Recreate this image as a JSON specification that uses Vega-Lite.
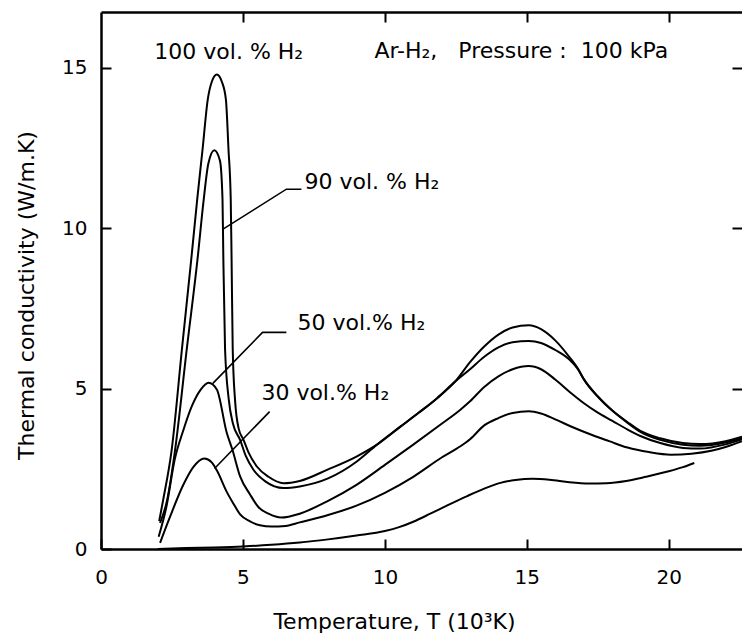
{
  "$schema": "https://vega.github.io/schema/vega-lite/v6.json",
  "width": 641,
  "height": 537,
  "autosize": {"type": "none"},
  "padding": {"left": 101, "top": 12, "right": 0, "bottom": 86},
  "background": "white",
  "config": {"view": {"stroke": null}, "font": "DejaVu Sans"},
  "datasets": {
    "curves": [
      {"s": "100", "T": 2.05, "K": 0.87}, {"s": "100", "T": 2.19, "K": 1.53}, {"s": "100", "T": 2.49, "K": 3.09}, {"s": "100", "T": 2.85, "K": 6.22},
      {"s": "100", "T": 3.18, "K": 9.03}, {"s": "100", "T": 3.39, "K": 10.9}, {"s": "100", "T": 3.58, "K": 12.47}, {"s": "100", "T": 3.76, "K": 14.0},
      {"s": "100", "T": 3.9, "K": 14.55}, {"s": "100", "T": 4.08, "K": 14.78}, {"s": "100", "T": 4.26, "K": 14.55}, {"s": "100", "T": 4.4, "K": 14.0},
      {"s": "100", "T": 4.49, "K": 12.47}, {"s": "100", "T": 4.57, "K": 10.9}, {"s": "100", "T": 4.6, "K": 9.03}, {"s": "100", "T": 4.64, "K": 6.22},
      {"s": "100", "T": 4.72, "K": 4.66}, {"s": "100", "T": 4.85, "K": 3.75}, {"s": "100", "T": 5.02, "K": 3.4}, {"s": "100", "T": 5.2, "K": 3.0},
      {"s": "100", "T": 5.49, "K": 2.57}, {"s": "100", "T": 5.9, "K": 2.25}, {"s": "100", "T": 6.43, "K": 2.05}, {"s": "100", "T": 7.0, "K": 2.12},
      {"s": "100", "T": 8.0, "K": 2.48}, {"s": "100", "T": 9.0, "K": 2.88}, {"s": "100", "T": 9.72, "K": 3.25}, {"s": "100", "T": 10.5, "K": 3.78},
      {"s": "100", "T": 11.2, "K": 4.25}, {"s": "100", "T": 11.84, "K": 4.7}, {"s": "100", "T": 12.49, "K": 5.23}, {"s": "100", "T": 13.0, "K": 5.82},
      {"s": "100", "T": 13.49, "K": 6.3}, {"s": "100", "T": 14.0, "K": 6.68}, {"s": "100", "T": 14.5, "K": 6.9}, {"s": "100", "T": 15.07, "K": 6.97},
      {"s": "100", "T": 15.5, "K": 6.85}, {"s": "100", "T": 16.0, "K": 6.5}, {"s": "100", "T": 16.5, "K": 5.98}, {"s": "100", "T": 16.8, "K": 5.62},
      {"s": "100", "T": 17.0, "K": 5.3}, {"s": "100", "T": 17.5, "K": 4.75}, {"s": "100", "T": 18.0, "K": 4.32}, {"s": "100", "T": 18.55, "K": 3.95},
      {"s": "100", "T": 19.0, "K": 3.68}, {"s": "100", "T": 19.7, "K": 3.45}, {"s": "100", "T": 20.5, "K": 3.3}, {"s": "100", "T": 21.1, "K": 3.27},
      {"s": "100", "T": 22.0, "K": 3.36}, {"s": "100", "T": 22.58, "K": 3.5},

      {"s": "90", "T": 2.08, "K": 0.81}, {"s": "90", "T": 2.33, "K": 1.53}, {"s": "90", "T": 2.61, "K": 3.09}, {"s": "90", "T": 3.02, "K": 6.22},
      {"s": "90", "T": 3.4, "K": 9.03}, {"s": "90", "T": 3.62, "K": 10.9}, {"s": "90", "T": 3.78, "K": 12.0}, {"s": "90", "T": 3.99, "K": 12.42},
      {"s": "90", "T": 4.19, "K": 12.1}, {"s": "90", "T": 4.28, "K": 10.9}, {"s": "90", "T": 4.31, "K": 9.03}, {"s": "90", "T": 4.37, "K": 6.22},
      {"s": "90", "T": 4.5, "K": 4.66}, {"s": "90", "T": 4.65, "K": 3.9}, {"s": "90", "T": 4.9, "K": 3.4}, {"s": "90", "T": 5.1, "K": 2.9},
      {"s": "90", "T": 5.37, "K": 2.47}, {"s": "90", "T": 5.8, "K": 2.1}, {"s": "90", "T": 6.43, "K": 1.9}, {"s": "90", "T": 7.0, "K": 1.95},
      {"s": "90", "T": 8.0, "K": 2.2}, {"s": "90", "T": 9.0, "K": 2.72}, {"s": "90", "T": 9.72, "K": 3.25}, {"s": "90", "T": 10.5, "K": 3.78},
      {"s": "90", "T": 11.2, "K": 4.25}, {"s": "90", "T": 11.84, "K": 4.7}, {"s": "90", "T": 12.49, "K": 5.23}, {"s": "90", "T": 13.0, "K": 5.6},
      {"s": "90", "T": 13.49, "K": 5.98}, {"s": "90", "T": 14.0, "K": 6.28}, {"s": "90", "T": 14.5, "K": 6.44}, {"s": "90", "T": 15.07, "K": 6.48},
      {"s": "90", "T": 15.5, "K": 6.42}, {"s": "90", "T": 16.0, "K": 6.2}, {"s": "90", "T": 16.5, "K": 5.9}, {"s": "90", "T": 16.8, "K": 5.6},
      {"s": "90", "T": 17.0, "K": 5.3}, {"s": "90", "T": 17.5, "K": 4.75}, {"s": "90", "T": 18.0, "K": 4.32}, {"s": "90", "T": 18.55, "K": 3.93},
      {"s": "90", "T": 19.0, "K": 3.65}, {"s": "90", "T": 19.7, "K": 3.4}, {"s": "90", "T": 20.5, "K": 3.25}, {"s": "90", "T": 21.1, "K": 3.22},
      {"s": "90", "T": 22.0, "K": 3.32}, {"s": "90", "T": 22.58, "K": 3.46},

      {"s": "50", "T": 2.03, "K": 0.38}, {"s": "50", "T": 2.3, "K": 1.3}, {"s": "50", "T": 2.6, "K": 2.8}, {"s": "50", "T": 2.9, "K": 3.7},
      {"s": "50", "T": 3.2, "K": 4.45}, {"s": "50", "T": 3.5, "K": 4.95}, {"s": "50", "T": 3.79, "K": 5.18}, {"s": "50", "T": 4.08, "K": 4.97},
      {"s": "50", "T": 4.43, "K": 3.62}, {"s": "50", "T": 4.63, "K": 3.09}, {"s": "50", "T": 4.9, "K": 2.26}, {"s": "50", "T": 5.25, "K": 1.7},
      {"s": "50", "T": 5.55, "K": 1.3}, {"s": "50", "T": 5.9, "K": 1.1}, {"s": "50", "T": 6.35, "K": 0.98}, {"s": "50", "T": 7.0, "K": 1.1},
      {"s": "50", "T": 8.0, "K": 1.5}, {"s": "50", "T": 9.0, "K": 2.0}, {"s": "50", "T": 10.0, "K": 2.62}, {"s": "50", "T": 11.0, "K": 3.25},
      {"s": "50", "T": 12.0, "K": 3.9}, {"s": "50", "T": 12.66, "K": 4.34}, {"s": "50", "T": 13.0, "K": 4.6}, {"s": "50", "T": 13.5, "K": 5.05},
      {"s": "50", "T": 14.0, "K": 5.38}, {"s": "50", "T": 14.5, "K": 5.6}, {"s": "50", "T": 15.07, "K": 5.7}, {"s": "50", "T": 15.5, "K": 5.6},
      {"s": "50", "T": 16.0, "K": 5.28}, {"s": "50", "T": 16.5, "K": 4.9}, {"s": "50", "T": 17.0, "K": 4.55}, {"s": "50", "T": 17.5, "K": 4.25},
      {"s": "50", "T": 18.0, "K": 4.0}, {"s": "50", "T": 18.55, "K": 3.72}, {"s": "50", "T": 19.0, "K": 3.52}, {"s": "50", "T": 19.7, "K": 3.3},
      {"s": "50", "T": 20.5, "K": 3.15}, {"s": "50", "T": 21.1, "K": 3.13}, {"s": "50", "T": 22.0, "K": 3.26}, {"s": "50", "T": 22.58, "K": 3.42},

      {"s": "30", "T": 2.08, "K": 0.19}, {"s": "30", "T": 2.43, "K": 1.0}, {"s": "30", "T": 2.9, "K": 2.0}, {"s": "30", "T": 3.25, "K": 2.55},
      {"s": "30", "T": 3.64, "K": 2.82}, {"s": "30", "T": 3.9, "K": 2.7}, {"s": "30", "T": 4.08, "K": 2.45}, {"s": "30", "T": 4.43, "K": 1.78},
      {"s": "30", "T": 4.66, "K": 1.42}, {"s": "30", "T": 4.9, "K": 1.08}, {"s": "30", "T": 5.25, "K": 0.86}, {"s": "30", "T": 5.6, "K": 0.74},
      {"s": "30", "T": 6.0, "K": 0.7}, {"s": "30", "T": 6.5, "K": 0.72}, {"s": "30", "T": 7.0, "K": 0.83}, {"s": "30", "T": 8.0, "K": 1.06},
      {"s": "30", "T": 9.0, "K": 1.35}, {"s": "30", "T": 10.0, "K": 1.75}, {"s": "30", "T": 11.0, "K": 2.25}, {"s": "30", "T": 12.0, "K": 2.85},
      {"s": "30", "T": 12.66, "K": 3.2}, {"s": "30", "T": 13.0, "K": 3.42}, {"s": "30", "T": 13.5, "K": 3.85}, {"s": "30", "T": 14.0, "K": 4.08},
      {"s": "30", "T": 14.5, "K": 4.24}, {"s": "30", "T": 15.07, "K": 4.29}, {"s": "30", "T": 15.5, "K": 4.22}, {"s": "30", "T": 16.0, "K": 4.04},
      {"s": "30", "T": 16.6, "K": 3.8}, {"s": "30", "T": 17.3, "K": 3.55}, {"s": "30", "T": 17.9, "K": 3.36}, {"s": "30", "T": 18.55, "K": 3.16},
      {"s": "30", "T": 19.3, "K": 3.02}, {"s": "30", "T": 20.07, "K": 2.94}, {"s": "30", "T": 20.8, "K": 2.97}, {"s": "30", "T": 21.5, "K": 3.06},
      {"s": "30", "T": 22.0, "K": 3.18}, {"s": "30", "T": 22.58, "K": 3.36},

      {"s": "0", "T": 2.0, "K": 0.0}, {"s": "0", "T": 3.0, "K": 0.03}, {"s": "0", "T": 4.0, "K": 0.05}, {"s": "0", "T": 5.0, "K": 0.08},
      {"s": "0", "T": 6.0, "K": 0.13}, {"s": "0", "T": 7.0, "K": 0.2}, {"s": "0", "T": 8.0, "K": 0.3}, {"s": "0", "T": 9.0, "K": 0.42},
      {"s": "0", "T": 10.0, "K": 0.56}, {"s": "0", "T": 10.5, "K": 0.68}, {"s": "0", "T": 11.0, "K": 0.85}, {"s": "0", "T": 11.6, "K": 1.1},
      {"s": "0", "T": 12.2, "K": 1.36}, {"s": "0", "T": 12.9, "K": 1.65}, {"s": "0", "T": 13.5, "K": 1.88}, {"s": "0", "T": 14.07, "K": 2.06},
      {"s": "0", "T": 14.6, "K": 2.15}, {"s": "0", "T": 15.2, "K": 2.19}, {"s": "0", "T": 15.8, "K": 2.16}, {"s": "0", "T": 16.5, "K": 2.08},
      {"s": "0", "T": 17.2, "K": 2.04}, {"s": "0", "T": 17.8, "K": 2.05}, {"s": "0", "T": 18.5, "K": 2.12}, {"s": "0", "T": 19.2, "K": 2.25},
      {"s": "0", "T": 20.0, "K": 2.42}, {"s": "0", "T": 20.5, "K": 2.55}, {"s": "0", "T": 20.9, "K": 2.68}
    ],
    "leaders": [
      {"id": "L90", "ord": 1, "T": 7.06, "K": 11.21}, {"id": "L90", "ord": 2, "T": 6.53, "K": 11.21}, {"id": "L90", "ord": 3, "T": 4.27, "K": 9.95},
      {"id": "L50", "ord": 1, "T": 6.53, "K": 6.75}, {"id": "L50", "ord": 2, "T": 5.69, "K": 6.75}, {"id": "L50", "ord": 3, "T": 3.94, "K": 5.16},
      {"id": "L30", "ord": 1, "T": 5.94, "K": 4.28}, {"id": "L30", "ord": 2, "T": 4.0, "K": 2.51}
    ],
    "labels": [
      {"T": 1.88, "K": 15.26, "label": "100 vol. % H₂"},
      {"T": 9.63, "K": 15.3, "label": "Ar-H₂,\u00a0\u00a0\u00a0Pressure\u00a0:\u00a0\u00a0100 kPa"},
      {"T": 7.17, "K": 11.21, "label": "90 vol. % H₂"},
      {"T": 6.92, "K": 6.82, "label": "50 vol.% H₂"},
      {"T": 5.65, "K": 4.64, "label": "30 vol.% H₂"}
    ]
  },
  "layer": [
    {
      "data": {"name": "curves"},
      "mark": {"type": "line", "interpolate": "monotone", "color": "black", "strokeWidth": 2, "clip": true},
      "encoding": {
        "x": {
          "field": "T", "type": "quantitative",
          "scale": {"domain": [0, 22.58], "nice": false, "zero": false},
          "axis": {
            "orient": "bottom", "values": [0, 5, 10, 15, 20], "grid": false,
            "title": "Temperature, T (10³K)", "titleFont": "DejaVu Sans", "titleFontSize": 22, "titleFontWeight": "normal", "titleColor": "black",
            "titleX": 293, "titleY": 79, "titleAlign": "center", "titleBaseline": "alphabetic",
            "labelFont": "DejaVu Sans", "labelFontSize": 20, "labelColor": "black", "labelPadding": 28, "labelFlush": false, "labelOverlap": false,
            "tickSize": -10, "tickWidth": 2, "tickColor": "black", "domainColor": "black", "domainWidth": 2.5
          }
        },
        "y": {
          "field": "K", "type": "quantitative",
          "scale": {"domain": [0, 16.73], "nice": false, "zero": false},
          "axis": {
            "orient": "left", "values": [0, 5, 10, 15], "grid": false,
            "title": "Thermal conductivity (W/m.K)", "titleFont": "DejaVu Sans", "titleFontSize": 22, "titleFontWeight": "normal", "titleColor": "black",
            "titleX": -68, "titleY": 283, "titleAngle": -90, "titleAlign": "center", "titleBaseline": "alphabetic",
            "labelFont": "DejaVu Sans", "labelFontSize": 20, "labelColor": "black", "labelPadding": 24, "labelFlush": false, "labelOverlap": false,
            "tickSize": -10, "tickWidth": 2, "tickColor": "black", "domainColor": "black", "domainWidth": 2.5
          }
        },
        "detail": {"field": "s", "type": "nominal"}
      }
    },
    {
      "data": {"name": "leaders"},
      "mark": {"type": "line", "color": "black", "strokeWidth": 1.6},
      "encoding": {
        "x": {
          "field": "T", "type": "quantitative",
          "scale": {"domain": [0, 22.58], "nice": false, "zero": false},
          "axis": {"orient": "top", "values": [5, 10, 15, 20], "labels": false, "title": null, "grid": false,
                   "tickSize": -10, "tickWidth": 2, "tickColor": "black", "domainColor": "black", "domainWidth": 2.5}
        },
        "y": {
          "field": "K", "type": "quantitative",
          "scale": {"domain": [0, 16.73], "nice": false, "zero": false},
          "axis": {"orient": "right", "values": [5, 10, 15], "labels": false, "title": null, "grid": false, "domain": false,
                   "tickSize": -10, "tickWidth": 2, "tickColor": "black"}
        },
        "detail": {"field": "id", "type": "nominal"},
        "order": {"field": "ord", "type": "quantitative"}
      }
    },
    {
      "data": {"name": "labels"},
      "mark": {"type": "text", "align": "left", "baseline": "alphabetic", "font": "DejaVu Sans", "fontSize": 22, "color": "black"},
      "encoding": {
        "x": {"field": "T", "type": "quantitative", "scale": {"domain": [0, 22.58], "nice": false, "zero": false}, "axis": null},
        "y": {"field": "K", "type": "quantitative", "scale": {"domain": [0, 16.73], "nice": false, "zero": false}, "axis": null},
        "text": {"field": "label", "type": "nominal"}
      }
    }
  ],
  "resolve": {"axis": {"x": "independent", "y": "independent"}}
}
